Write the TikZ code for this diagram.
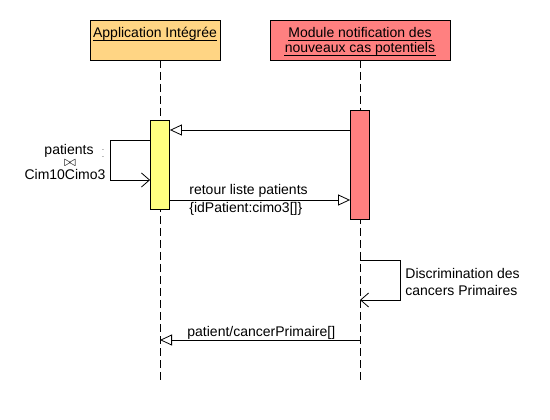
\documentclass[tikz,border=0pt]{standalone}
\usepackage{fontspec}
\setmainfont{Liberation Sans}
\usetikzlibrary{arrows.meta}

\definecolor{appfill}{HTML}{FFD584}
\definecolor{modfill}{HTML}{FF8080}
\definecolor{actfill}{HTML}{FFFF80}

\begin{document}
\begin{tikzpicture}[x=1pt, y=-1pt, line width=0.8pt,
    every node/.style={font=\fontsize{14}{15}\selectfont, inner sep=0pt},
    header/.style={draw, minimum height=40pt},
    lifeline/.style={dash pattern=on 8pt off 4pt},
    activation/.style={draw, minimum width=19pt},
    msg/.style={-{Triangle[open, length=12pt, width=11pt]}},
    selfmsg/.style={-{Straight Barb[length=8pt, width=14pt]}},
    uline/.style={line width=0.7pt}]
      % \draw[help lines, gray!50, very thin] (0,0) grid[step=10] (550,420);
      \useasboundingbox (0,0) rectangle (550,420);

      % lifelines
      \coordinate (apptop) at (160,60);
      \coordinate (appbot) at (160,380);
      \coordinate (modtop) at (360,60);
      \coordinate (modbot) at (360,380);
      \draw[lifeline] (apptop) -- (appbot);
      \draw[lifeline] (modtop) -- (modbot);

      % headers
      \node[header, fill=appfill, minimum width=130pt, anchor=north] (app) at (155,20) {};
      \node[anchor=base] (apptxt) at (155,38) {Application Intégrée};
      \draw[uline] ([yshift=-2.5pt]apptxt.base west) -- ([yshift=-2.5pt]apptxt.base east);
      \node[header, fill=modfill, minimum width=180pt, anchor=north] (mod) at (360,20) {};
      \node[anchor=base] (modtxt) at (360,38) {Module notification des};
      \draw[uline] ([yshift=-2.5pt]modtxt.base west) -- ([yshift=-2.5pt]modtxt.base east);
      \node[anchor=base] (modtxt2) at (360,53) {nouveaux cas potentiels};
      \draw[uline] ([yshift=-2.5pt]modtxt2.base west) -- ([yshift=-2.5pt]modtxt2.base east);

      % activations
      \node[activation, fill=actfill, minimum height=89pt, anchor=north] (act1) at (160,120) {};
      \node[activation, fill=modfill, minimum height=109pt, anchor=north] (act2) at (360,110) {};

      % messages
      \coordinate (m1) at (0,130);
      \draw[msg] (m1 -| act2.west) -- (m1 -| act1.east);

      \coordinate (s1a) at (0,140);
      \coordinate (s1b) at (0,180);
      \draw[selfmsg] (s1a -| act1.west) -- ++(-40,0) -- ++(0,40) -- (s1b -| act1.west);
      \node[anchor=base] (s1lbl1) at (69,154) {patients};
      \node (s1lbl2) at (70,163.5) {\fontsize{14}{14}\selectfont$\bowtie$};
      \node[anchor=base] (s1lbl3) at (65,180) {Cim10Cimo3};
      \node[font=\fontsize{7}{7}\selectfont] (dot1) at (103,150) {.};
      \node[font=\fontsize{7}{7}\selectfont] (dot2) at (103,157) {.};

      \coordinate (m2) at (0,200);
      \draw[msg] (m2 -| act1.east) -- (m2 -| act2.west);
      \node[anchor=base west] (m2lbl) at (189,195) {retour liste patients};
      \node[anchor=base west] (m2lbl2) at (189,213) {\{idPatient:cimo3[]\}};

      \coordinate (s2a) at (360,260);
      \coordinate (s2b) at (360,300);
      \draw[selfmsg] (s2a) -- ++(40,0) -- ++(0,40) -- (s2b);
      \node[anchor=base west] (s2lbl) at (405,278) {Discrimination des};
      \node[anchor=base west] (s2lbl2) at (405,295) {cancers Primaires};

      \coordinate (m3a) at (360,340);
      \coordinate (m3b) at (160,340);
      \draw[msg] (m3a) -- (m3b);
      \node[anchor=base west] (m3lbl) at (187,336) {patient/cancerPrimaire[]};
\end{tikzpicture}
\end{document}
